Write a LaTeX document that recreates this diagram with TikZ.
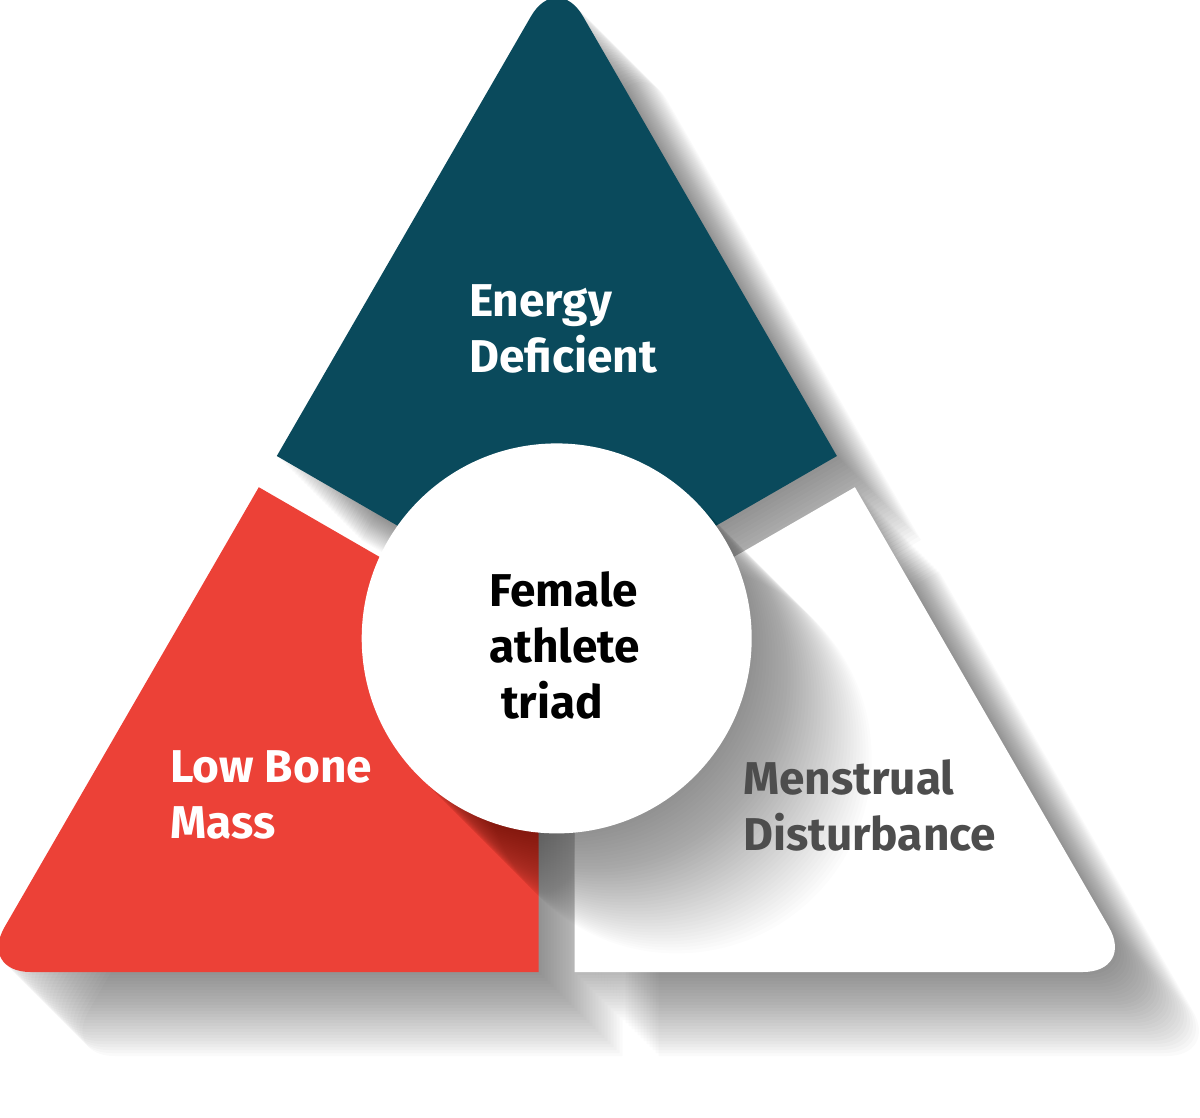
\documentclass[tikz,border=0pt]{standalone}
\usepackage{fontspec}
\setmainfont{Fira Sans}
\definecolor{bleuCanard}{HTML}{0A4A5C}
\definecolor{rougeTomate}{HTML}{EC4137}
\definecolor{grisTexte}{HTML}{4D4D4D}
\begin{document}
\begin{tikzpicture}[x=1pt,y=-1pt]
	% Styles (MODIFIABLES)
	\tikzstyle{ombre}=[black,opacity=0.021]
	\tikzstyle{ombrecercle}=[black,opacity=0.0105]
	\tikzstyle{disque}=[circle,fill=white,inner sep=0pt,minimum size=390pt]
	\tikzstyle{etiquette}=[anchor=base west,align=left,inner sep=0pt,font=\fontsize{46}{56}\selectfont\bfseries]
	% Dimensions (MODIFIABLES)
	\def\Arrondi{52pt}
	\def\PasOmbre{3}
	\def\PasCercle{3}
	% Pieces du triangle (sommet arrondi seulement)
	\def\PieceHaut{(556.7,617.6) -- (276.8,456) [rounded corners=\Arrondi] -- (557,-28.7) [sharp corners] -- (836.9,456) -- cycle}
	\def\PieceGauche{(538.7,648.8) -- (538.7,972) [rounded corners=\Arrondi] -- (-21.4,972) [sharp corners] -- (258.8,487.2) -- cycle}
	\def\PieceDroite{(574.7,648.8) -- (854.9,487.2) [rounded corners=\Arrondi] -- (1134.8,972) [sharp corners] -- (574.7,972) -- cycle}
	%
	\useasboundingbox (0,0) rectangle (1200,1117);
	% Ombres portees
	\foreach \i in {1,...,28}{
		\fill[ombre,shift={(\i*\PasOmbre,\i*\PasOmbre)}] \PieceHaut;
		\fill[ombre,shift={(\i*\PasOmbre,\i*\PasOmbre)}] \PieceGauche;
		\fill[ombre,shift={(\i*\PasOmbre,\i*\PasOmbre)}] \PieceDroite;
	}
	% Pieces
	\fill[bleuCanard] \PieceHaut;
	\fill[rougeTomate] \PieceGauche;
	\fill[white] \PieceDroite;
	% Ombre du disque
	\foreach \i in {1,...,40}
		\fill[ombrecercle,shift={(\i*\PasCercle,\i*\PasCercle)}] (556.7,638.4) circle (195);
	% Noeuds (ancre = ligne de base de la derniere ligne)
	\node[disque] (centre) at (556.7,638.4) {};
	\node[etiquette,text=white] (energie) at (469,372) {Energy\\Deficient};
	\node[etiquette,text=black] (triade) at (489,718) {Female\\athlete\\\hspace*{12pt}triad};
	\node[etiquette,text=white] (os) at (170,838) {Low Bone\\Mass};
	\node[etiquette,text=grisTexte] (regles) at (743,850) {Menstrual\\Disturbance};
\end{tikzpicture}
\end{document}
